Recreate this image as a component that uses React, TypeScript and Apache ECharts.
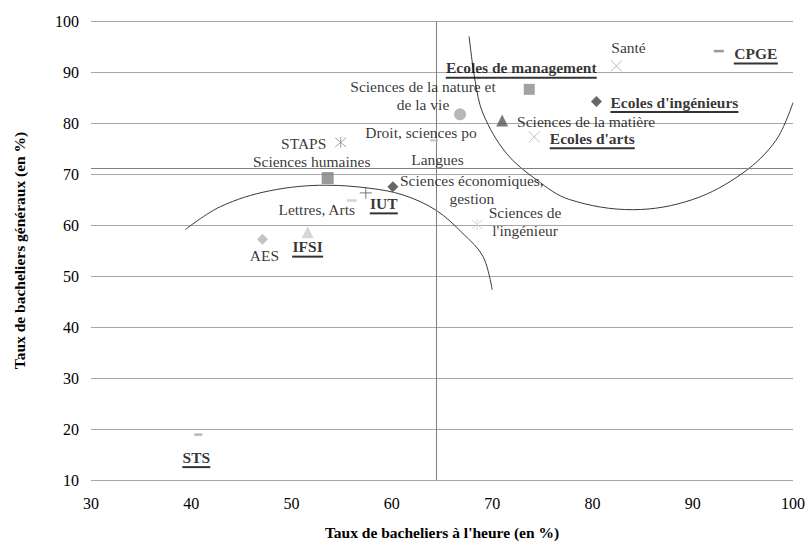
import React, { useEffect, useRef } from "react";
import * as echarts from "echarts";

// ---- Data ----
const categories = [
  "Santé",
  "CPGE",
  "Ecoles de management",
  "Ecoles d'ingénieurs",
  "Sciences de la matière",
  "Ecoles d'arts",
  "Sciences de la nature et\nde la vie",
  "Droit, sciences po",
  "Langues",
  "STAPS",
  "Sciences humaines",
  "IUT",
  "Lettres, Arts",
  "Sciences économiques,\ngestion",
  "Sciences de\nl'ingénieur",
  "AES",
  "IFSI",
  "STS",
];
const onTimeRate = [82.4, 92.6, 73.7, 80.4, 71.0, 74.2, 66.8, 64.2, 64.45, 54.9, 53.6, 57.4, 56.0, 60.1, 68.5, 47.1, 51.6, 40.7];
const generalRate = [91.2, 94.1, 86.6, 84.2, 80.5, 77.3, 81.7, 76.6, 71.1, 76.2, 69.2, 66.3, 64.8, 67.5, 60.1, 57.2, 58.6, 18.9];
const selective = [false, true, true, true, false, true, false, false, false, false, false, true, false, false, false, false, true, true];

const meanOnTime = 64.45;
const meanGeneral = 71.1;

const leftCurveX = [39.4, 42.9, 47.8, 53.5, 57.8, 61.1, 64.4, 67.1, 69.1, 70.0];
const leftCurveY = [59.1, 63.6, 66.7, 67.8, 67.2, 65.9, 62.9, 58.3, 53.8, 47.3];
const rightCurveX = [67.7, 68.3, 69.1, 71.4, 74.4, 77.7, 84.0, 90.0, 95.0, 98.3, 100.0];
const rightCurveY = [97.0, 88.3, 81.8, 74.1, 68.9, 65.0, 63.0, 65.0, 70.2, 76.6, 84.0];

const xTicks = [30, 40, 50, 60, 70, 80, 90, 100];
const yTicks = [10, 20, 30, 40, 50, 60, 70, 80, 90, 100];

// ---- Styles ----
const FONT = "'Liberation Serif', 'Times New Roman', serif";
const FS = 15.5;
const CROSS = "path://M0,0L10,10M10,0L0,10";
const STAR = "path://M0,0L10,10M10,0L0,10M5,-1L5,11";
const PLUS = "path://M5,0L5,10M0,5L10,5";

type St = { symbol: string; size: number | number[]; color: string; stroke?: boolean; offset: number[] };
const styles: St[] = [
  { symbol: CROSS, size: 11, color: "#a6a6a6", stroke: true, offset: [12, -18] },
  { symbol: "rect", size: [10, 2.5], color: "#7f7f7f", offset: [37, 4] },
  { symbol: "rect", size: 11, color: "#8c8c8c", offset: [-8, -20] },
  { symbol: "diamond", size: 11, color: "#404040", offset: [78, 2] },
  { symbol: "triangle", size: 12, color: "#595959", offset: [84, 1] },
  { symbol: CROSS, size: 11, color: "#b0b0b0", stroke: true, offset: [58, 3] },
  { symbol: "circle", size: 12, color: "#a6a6a6", offset: [-37, -19] },
  { symbol: "rect", size: [8, 2.5], color: "#bfbfbf", offset: [-13, -8] },
  { symbol: "rect", size: [1, 6], color: "#7f7f7f", offset: [1, -9] },
  { symbol: STAR, size: 11, color: "#8c8c8c", stroke: true, offset: [-37, 1] },
  { symbol: "rect", size: 12, color: "#808080", offset: [-16, -17] },
  { symbol: PLUS, size: 12, color: "#595959", stroke: true, offset: [18, 12] },
  { symbol: "rect", size: [10, 2.5], color: "#c8c8c8", offset: [-35, 9] },
  { symbol: "diamond", size: 11, color: "#404040", offset: [79, 3] },
  { symbol: STAR, size: 11, color: "#d0d0d0", stroke: true, offset: [48, -3] },
  { symbol: "diamond", size: 11, color: "#b4b4b4", offset: [2, 16] },
  { symbol: "triangle", size: 12, color: "#cccccc", offset: [0, 16] },
  { symbol: "rect", size: [8, 2.5], color: "#a6a6a6", offset: [-2, 24] },
];

function measure(text: string, bold: boolean): number {
  const c = document.createElement("canvas").getContext("2d");
  if (!c) return text.length * 8;
  c.font = `${bold ? "bold " : ""}${FS}px ${FONT}`;
  return Math.ceil(c.measureText(text).width);
}

export default function App() {
  const ref = useRef<HTMLDivElement>(null);
  useEffect(() => {
    if (!ref.current) return;
    const chart = echarts.init(ref.current, undefined, { renderer: "svg" });

    const points = categories.map((name, i) => {
      const s = styles[i];
      const plain = name.replace(/\n/g, " ");
      const rich: any = {
        b: { fontFamily: FONT, fontSize: FS, fontWeight: "bold", color: "#000", lineHeight: 17 },
      };
      let formatter = name;
      if (selective[i]) {
        rich.u = { width: measure(name, true), height: 2, lineHeight: 3, fontSize: 1, backgroundColor: "#000" };
        formatter = `{b|${name}}\n{u|}`;
      }
      return {
        name: plain,
        value: [onTimeRate[i], generalRate[i]],
        symbol: s.symbol,
        symbolSize: s.size,
        itemStyle: s.stroke
          ? { color: "none", borderColor: s.color, borderWidth: 1 }
          : { color: s.color, borderWidth: 0 },
        label: {
          show: true,
          position: "inside",
          offset: s.offset,
          align: "center",
          verticalAlign: "middle",
          color: "#000",
          fontFamily: FONT,
          fontSize: FS,
          lineHeight: 18,
          formatter,
          rich,
        },
      };
    });

    const toPairs = (xs: number[], ys: number[]) => xs.map((x, i) => [x, ys[i]]);

    chart.setOption({
      animation: false,
      backgroundColor: "#fff",
      textStyle: { fontFamily: FONT },
      grid: { left: 91, right: 14, top: 21, bottom: 59 },
      xAxis: {
        type: "value",
        min: xTicks[0],
        max: xTicks[xTicks.length - 1],
        interval: 10,
        name: "Taux de bacheliers à l'heure (en %)",
        nameLocation: "middle",
        nameGap: 44,
        nameTextStyle: { fontFamily: FONT, fontSize: FS, fontWeight: "bold", color: "#000" },
        axisLine: { show: false },
        axisTick: { show: false },
        splitLine: { show: false },
        axisLabel: { fontFamily: FONT, fontSize: 16, color: "#000", margin: 15 },
      },
      yAxis: {
        type: "value",
        min: yTicks[0],
        max: yTicks[yTicks.length - 1],
        interval: 10,
        name: "Taux de bacheliers généraux (en %)",
        nameLocation: "middle",
        nameGap: 64,
        nameTextStyle: { fontFamily: FONT, fontSize: FS, fontWeight: "bold", color: "#000" },
        axisLine: { show: false },
        axisTick: { show: false },
        splitLine: { show: true, lineStyle: { color: "#a6a6a6", width: 1 } },
        axisLabel: { fontFamily: FONT, fontSize: 16, color: "#000", margin: 12 },
      },
      series: [
        {
          type: "line",
          data: toPairs(leftCurveX, leftCurveY),
          smooth: 0.35,
          showSymbol: false,
          silent: true,
          lineStyle: { color: "#3a3a3a", width: 1 },
          markLine: {
            silent: true,
            symbol: "none",
            label: { show: false },
            lineStyle: { color: "#808080", width: 1, type: "solid" },
            data: [{ xAxis: meanOnTime }, { yAxis: meanGeneral }],
          },
        },
        {
          type: "line",
          data: toPairs(rightCurveX, rightCurveY),
          smooth: 0.35,
          showSymbol: false,
          silent: true,
          lineStyle: { color: "#3a3a3a", width: 1 },
        },
        {
          type: "scatter",
          data: points,
          silent: true,
          z: 5,
        },
      ],
    });
    return () => chart.dispose();
  }, []);
  return <div ref={ref} style={{ position: "fixed", left: 0, top: 0, width: 808, height: 545 }} />;
}
